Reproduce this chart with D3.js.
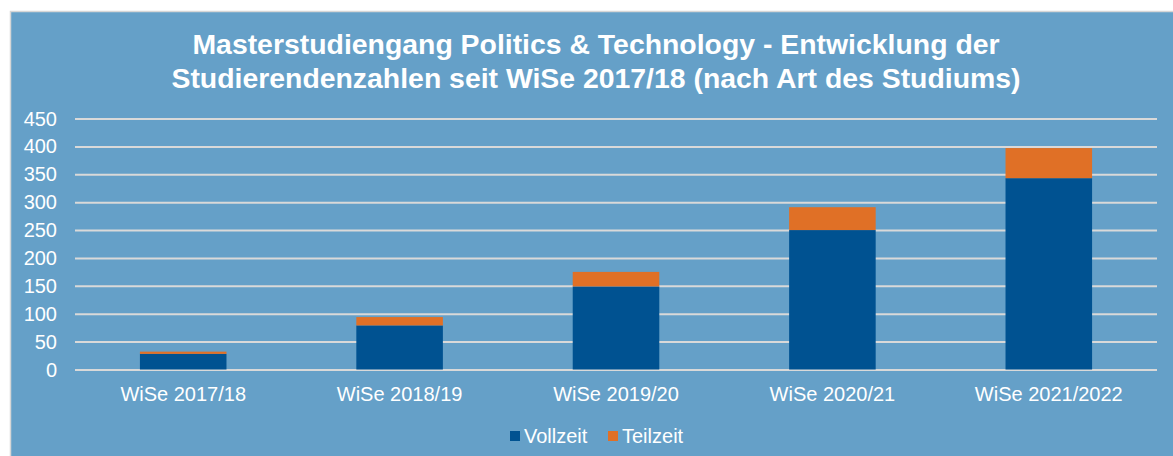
<!DOCTYPE html>
<html>
<head>
<meta charset="utf-8">
<script src="https://cdn.jsdelivr.net/npm/d3@7"></script>
<style>
  body { margin: 0; background: #fff; }
  svg { display: block; font-family: "Liberation Sans", Arial, sans-serif; }
</style>
</head>
<body>
<div id="chart"></div>
<script>
// data
var semesters = ["WiSe 2017/18", "WiSe 2018/19", "WiSe 2019/20", "WiSe 2020/21", "WiSe 2021/2022"];
var vollzeit = [28, 79, 149, 250, 343];
var teilzeit = [4, 15, 26, 41, 54];
var seriesNames = ["Vollzeit", "Teilzeit"];
var seriesColors = ["#005291", "#E07026"];
var yTicks = [0, 50, 100, 150, 200, 250, 300, 350, 400, 450];
var titleLines = ["Masterstudiengang Politics & Technology - Entwicklung der",
    "Studierendenzahlen seit WiSe 2017/18 (nach Art des Studiums)"];

var width = 1173, height = 456;

var svg = d3.select("#chart").append("svg")
    .attr("width", width)
    .attr("height", height);

// panel
svg.append("rect")
    .attr("x", 10.5).attr("y", 11.5)
    .attr("width", 1200).attr("height", 470)
    .attr("fill", "#65A0C8")
    .attr("stroke", "#D6D6D6")
    .attr("stroke-width", 1.5);

// title
svg.append("g").selectAll("text")
    .data(titleLines)
    .enter().append("text")
    .attr("x", 596)
    .attr("y", function (d, i) { return 53.5 + i * 34; })
    .attr("text-anchor", "middle")
    .attr("fill", "#fff")
    .style("font-size", "28.4px")
    .style("font-weight", "bold")
    .text(function (d) { return d; });

var x_scale = d3.scaleBand()
    .domain(semesters)
    .range([75, 1157])
    .paddingInner(0.6)
    .paddingOuter(0.3);

var y_scale = d3.scaleLinear()
    .domain([0, 450])
    .range([369.5, 118.5]);

// grid
svg.append("g")
    .attr("class", "y grid")
    .attr("transform", "translate(75,0)")
    .call(d3.axisLeft(y_scale).tickValues(yTicks).tickSize(-(1157 - 75)).tickFormat(""))
    .call(function (g) {
        g.select(".domain").remove();
        g.selectAll("line").attr("stroke", "#D9D9D9").attr("stroke-width", 2);
    });

// y labels
svg.append("g")
    .selectAll("text")
    .data(yTicks)
    .enter().append("text")
    .attr("x", 57)
    .attr("y", function (d) { return y_scale(d) + 7; })
    .attr("text-anchor", "end")
    .attr("fill", "#fff")
    .style("font-size", "20px")
    .text(function (d) { return d; });

// stacked bars
var table = semesters.map(function (s, i) {
    return { semester: s, Vollzeit: vollzeit[i], Teilzeit: teilzeit[i] };
});
var stacked = d3.stack().keys(seriesNames)(table);

svg.append("g").selectAll("g")
    .data(stacked)
    .enter().append("g")
    .attr("fill", function (d, i) { return seriesColors[i]; })
    .selectAll("rect")
    .data(function (d) { return d; })
    .enter().append("rect")
    .attr("x", function (d) { return x_scale(d.data.semester); })
    .attr("width", x_scale.bandwidth())
    .attr("y", function (d) { return y_scale(d[1]); })
    .attr("height", function (d) { return y_scale(d[0]) - y_scale(d[1]); });

// x labels
svg.append("g")
    .selectAll("text")
    .data(semesters)
    .enter().append("text")
    .attr("x", function (d) { return x_scale(d) + x_scale.bandwidth() / 2; })
    .attr("y", 401)
    .attr("text-anchor", "middle")
    .attr("fill", "#fff")
    .style("font-size", "20px")
    .text(function (d) { return d; });

// legend
var legendX = [510, 608];
var legend = svg.append("g").selectAll("g")
    .data(seriesNames)
    .enter().append("g")
    .attr("transform", function (d, i) { return "translate(" + legendX[i] + ",0)"; });

legend.append("rect")
    .attr("x", 0).attr("y", 431)
    .attr("width", 10).attr("height", 10)
    .attr("fill", function (d, i) { return seriesColors[i]; });

legend.append("text")
    .attr("x", 14)
    .attr("y", 443)
    .attr("fill", "#fff")
    .style("font-size", "20px")
    .text(function (d) { return d; });
</script>
</body>
</html>
